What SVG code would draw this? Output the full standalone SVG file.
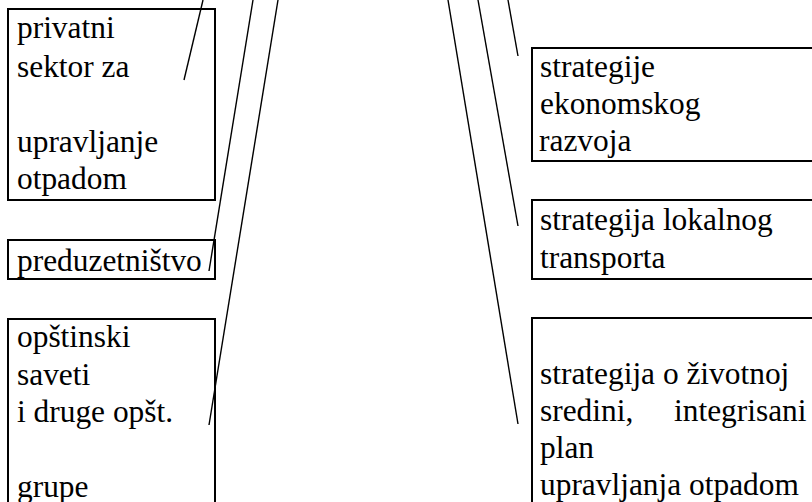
<svg xmlns="http://www.w3.org/2000/svg" width="812" height="502" viewBox="0 0 812 502">
  <style>
    .box { fill: #ffffff; stroke: #000000; stroke-width: 2; }
    .link { stroke: #000000; stroke-width: 1.4; fill: none; }
    .lbl { font-family: "Liberation Serif", "Times New Roman", serif; font-size: 31.4px; fill: #000000; }
  </style>
  <rect width="812" height="502" fill="#ffffff"/>

  <!-- left column -->
  <g id="privatni-sektor">
    <rect class="box" x="8" y="9" width="207" height="191"/>
    <text class="lbl">
      <tspan x="17" y="38">privatni</tspan>
      <tspan x="17" y="77">sektor za</tspan>
      <tspan x="17" y="152">upravljanje</tspan>
      <tspan x="17" y="189">otpadom</tspan>
    </text>
  </g>

  <g id="preduzetnistvo">
    <rect class="box" x="8" y="240" width="207" height="39"/>
    <text class="lbl" x="17" y="271">preduzetništvo</text>
  </g>

  <g id="opstinski-saveti">
    <rect class="box" x="8" y="319" width="207" height="200"/>
    <text class="lbl">
      <tspan x="17" y="347">opštinski</tspan>
      <tspan x="17" y="385">saveti</tspan>
      <tspan x="17" y="422">i druge opšt.</tspan>
      <tspan x="17" y="497">grupe</tspan>
    </text>
  </g>

  <!-- right column -->
  <g id="ekonomski-razvoj">
    <rect class="box" x="532" y="48" width="300" height="113"/>
    <text class="lbl">
      <tspan x="540" y="77">strategije</tspan>
      <tspan x="540" y="114">ekonomskog</tspan>
      <tspan x="539" y="151">razvoja</tspan>
    </text>
  </g>

  <g id="lokalni-transport">
    <rect class="box" x="532" y="200" width="300" height="79"/>
    <text class="lbl">
      <tspan x="540" y="230">strategija lokalnog</tspan>
      <tspan x="540" y="268">transporta</tspan>
    </text>
  </g>

  <g id="zivotna-sredina">
    <rect class="box" x="532" y="318" width="300" height="200"/>
    <text class="lbl">
      <tspan x="540" y="384">strategija o životnoj</tspan>
      <tspan x="540" y="421">sredini,</tspan>
      <tspan x="674" y="421">integrisani</tspan>
      <tspan x="540" y="458">plan</tspan>
      <tspan x="540" y="495">upravljanja otpadom</tspan>
    </text>
  </g>

  <!-- connectors -->
  <g id="connectors">
    <line class="link" x1="203" y1="0" x2="184" y2="80"/>
    <line class="link" x1="253" y1="0" x2="209" y2="271"/>
    <line class="link" x1="278" y1="0" x2="209" y2="425"/>
    <line class="link" x1="508" y1="0" x2="518" y2="56"/>
    <line class="link" x1="478" y1="0" x2="518" y2="226"/>
    <line class="link" x1="448" y1="0" x2="518" y2="424"/>
  </g>
</svg>
